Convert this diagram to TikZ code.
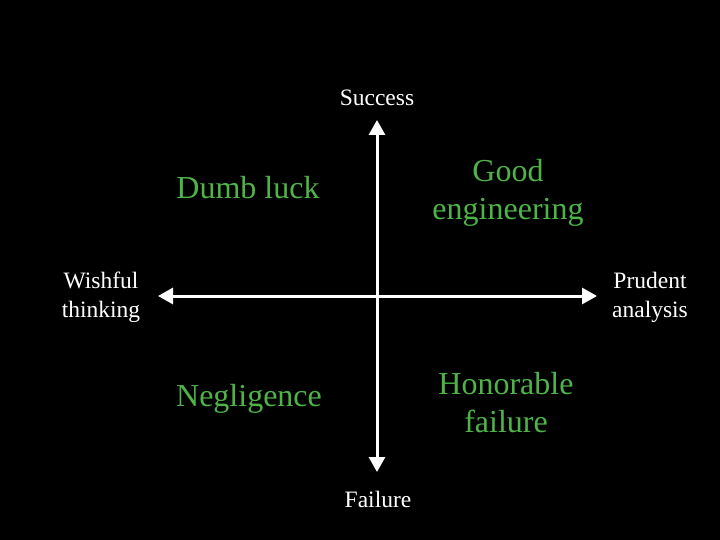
\documentclass[tikz,border=0pt]{standalone}
\usepackage{fontspec}
\setmainfont{Liberation Serif}
\usetikzlibrary{arrows.meta}
\definecolor{lbl}{RGB}{78,180,72}
\begin{document}
\begin{tikzpicture}[x=1pt,y=-1pt,
  small/.style={text=white,font=\fontsize{23.5}{28.5}\selectfont,align=center,inner sep=0pt},
  big/.style={text=lbl,font=\fontsize{32}{38}\selectfont,align=center,inner sep=0pt},
  axis/.style={white,line width=3pt,{Triangle[length=15pt,width=16pt]}-{Triangle[length=15pt,width=16pt]}}]
\fill[black] (0,0) rectangle (720,540);
\useasboundingbox (0,0) rectangle (720,540);
\coordinate (top) at (377,120);
\coordinate (bot) at (377,472);
\coordinate (lft) at (158,296);
\coordinate (rgt) at (597,296);
\draw[axis] (top) -- (bot);
\draw[axis] (lft) -- (rgt);
\node[small] (succ) at (377,98) {Success};
\node[small] (fail) at (378,499) {Failure};
\node[small] (wish) at (101,297.5) {Wishful\\thinking};
\node[small] (prud) at (650,297.5) {Prudent\\analysis};
\node[big] (dumb) at (248,188) {Dumb luck};
\node[big] (good) at (508,193) {Good\\engineering};
\node[big] (negl) at (249,399) {Negligence};
\node[big] (hono) at (506,403) {Honorable\\failure};
\end{tikzpicture}
\end{document}
